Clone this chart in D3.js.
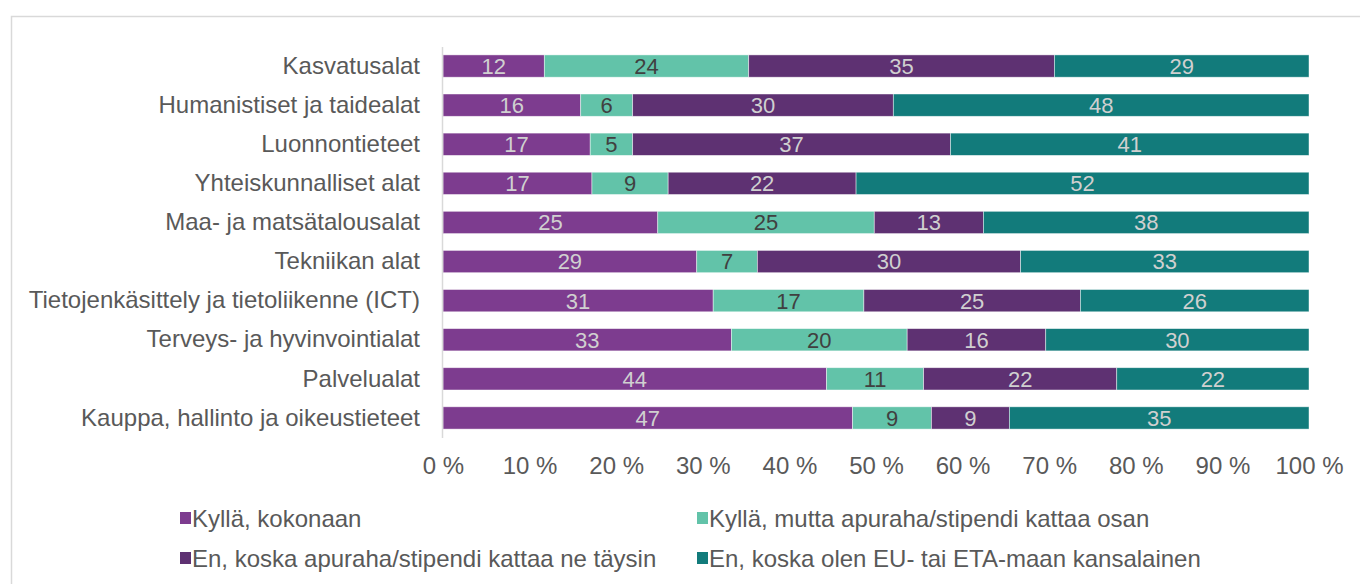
<!DOCTYPE html>
<html>
<head>
<meta charset="utf-8">
<script src="https://cdn.jsdelivr.net/npm/d3@7"></script>
<style>
  body { margin: 0; background: #fff; }
  svg text { font-family: "Liberation Sans", Arial, sans-serif; }
</style>
</head>
<body>
<script>
// categories, top to bottom
var categories = [
  "Kasvatusalat",
  "Humanistiset ja taidealat",
  "Luonnontieteet",
  "Yhteiskunnalliset alat",
  "Maa- ja matsätalousalat",
  "Tekniikan alat",
  "Tietojenkäsittely ja tietoliikenne (ICT)",
  "Terveys- ja hyvinvointialat",
  "Palvelualat",
  "Kauppa, hallinto ja oikeustieteet"
];

var seriesNames = [
  "Kyllä, kokonaan",
  "Kyllä, mutta apuraha/stipendi kattaa osan",
  "En, koska apuraha/stipendi kattaa ne täysin",
  "En, koska olen EU- tai ETA-maan kansalainen"
];

// shares (%) per series, same order as categories
var kokonaan = [11.7, 15.9, 17.0, 17.2, 24.8, 29.3, 31.2, 33.3, 44.3, 47.3];
var osan     = [23.6, 6.0, 4.9, 8.8, 25.0, 7.0, 17.4, 20.3, 11.2, 9.1];
var taysin   = [35.3, 30.1, 36.7, 21.7, 12.6, 30.4, 25.0, 16.0, 22.3, 9.0];
var euEta    = [29.4, 48.0, 41.4, 52.3, 37.6, 33.3, 26.4, 30.4, 22.2, 34.6];

var tickValues = [0, 10, 20, 30, 40, 50, 60, 70, 80, 90, 100];

var colors = ["#7d3c8f", "#62c3a9", "#5e3172", "#127b7b"];
var labelColors = ["#d0d0d0", "#404040", "#d0d0d0", "#d0d0d0"];

var svgWidth = 1360;
var svgHeight = 584;

var margin = { top: 46.5, left: 443, right: 51, bottom: 146.5 };
var chartWidth = svgWidth - margin.left - margin.right;
var chartHeight = svgHeight - margin.top - margin.bottom;

var svg = d3.select("body")
  .append("svg")
  .attr("width", svgWidth)
  .attr("height", svgHeight);

// outer frame
svg.append("rect")
  .attr("x", 11.5)
  .attr("y", 16.5)
  .attr("width", 1400)
  .attr("height", 700)
  .attr("fill", "none")
  .attr("stroke", "#d9d9d9")
  .attr("stroke-width", 1.5);

var chartGroup = svg.append("g")
  .attr("transform", `translate(${margin.left}, ${margin.top})`);

// build rows for the stack
var rows = categories.map(function(c, i) {
  return { cat: c, s0: kokonaan[i], s1: osan[i], s2: taysin[i], s3: euEta[i] };
});
var keys = ["s0", "s1", "s2", "s3"];
var stacked = d3.stack().keys(keys).offset(d3.stackOffsetExpand)(rows);

var yBand = d3.scaleBand()
  .domain(categories)
  .range([0, chartHeight])
  .paddingInner(0.43)
  .paddingOuter(0.215);

var xScale = d3.scaleLinear()
  .domain([0, 1])
  .range([0, chartWidth]);

// bars
var layers = chartGroup.selectAll(".layer")
  .data(stacked)
  .enter()
  .append("g")
  .attr("class", "layer")
  .attr("fill", (d, i) => colors[i]);

layers.selectAll("rect")
  .data(d => d)
  .enter()
  .append("rect")
  .attr("x", d => xScale(d[0]))
  .attr("y", d => yBand(d.data.cat))
  .attr("width", d => xScale(d[1]) - xScale(d[0]))
  .attr("height", yBand.bandwidth())
  .attr("stroke", "#ffffff")
  .attr("stroke-opacity", 0.6)
  .attr("stroke-width", 0.75);

// value labels
layers.selectAll("text")
  .data(d => d)
  .enter()
  .append("text")
  .attr("x", d => (xScale(d[0]) + xScale(d[1])) / 2)
  .attr("y", d => yBand(d.data.cat) + yBand.bandwidth() / 2)
  .attr("dy", "0.36em")
  .attr("text-anchor", "middle")
  .attr("font-size", "22px")
  .attr("fill", function() { return labelColors[keys.indexOf(d3.select(this.parentNode).datum().key)]; })
  .text(function(d) {
    var k = d3.select(this.parentNode).datum().key;
    return Math.round(d.data[k]);
  });

// left axis (line only + labels)
var leftAxis = d3.axisLeft(yBand).tickSize(0).tickPadding(22);
var gLeft = chartGroup.append("g")
  .attr("transform", "translate(-1, 0)")
  .call(leftAxis);
gLeft.select(".domain").attr("stroke", "#d9d9d9").attr("stroke-width", 1.5);
gLeft.selectAll("text")
  .attr("font-size", "24px")
  .attr("font-family", "Liberation Sans, Arial, sans-serif")
  .attr("fill", "#595959");

// bottom axis labels
var bottomAxis = d3.axisBottom(d3.scaleLinear().domain([0, 100]).range([0, chartWidth]))
  .tickValues(tickValues)
  .tickSize(0)
  .tickPadding(19)
  .tickFormat(d => d + " %");
var gBottom = chartGroup.append("g")
  .attr("transform", `translate(0, ${chartHeight})`)
  .call(bottomAxis);
gBottom.select(".domain").remove();
gBottom.selectAll("text")
  .attr("font-size", "24px")
  .attr("font-family", "Liberation Sans, Arial, sans-serif")
  .attr("fill", "#595959");

// legend
var legendPos = [[180, 518], [697, 518], [180, 558], [697, 558]];
var legend = svg.selectAll(".legend")
  .data(seriesNames)
  .enter()
  .append("g")
  .attr("class", "legend")
  .attr("transform", (d, i) => `translate(${legendPos[i][0]}, ${legendPos[i][1]})`);

legend.append("rect")
  .attr("x", 0)
  .attr("y", -6)
  .attr("width", 11)
  .attr("height", 12)
  .attr("fill", (d, i) => colors[i]);

legend.append("text")
  .attr("x", 12)
  .attr("y", 0)
  .attr("dy", "0.36em")
  .attr("font-size", "24px")
  .attr("fill", "#595959")
  .text(d => d);
</script>
</body>
</html>
